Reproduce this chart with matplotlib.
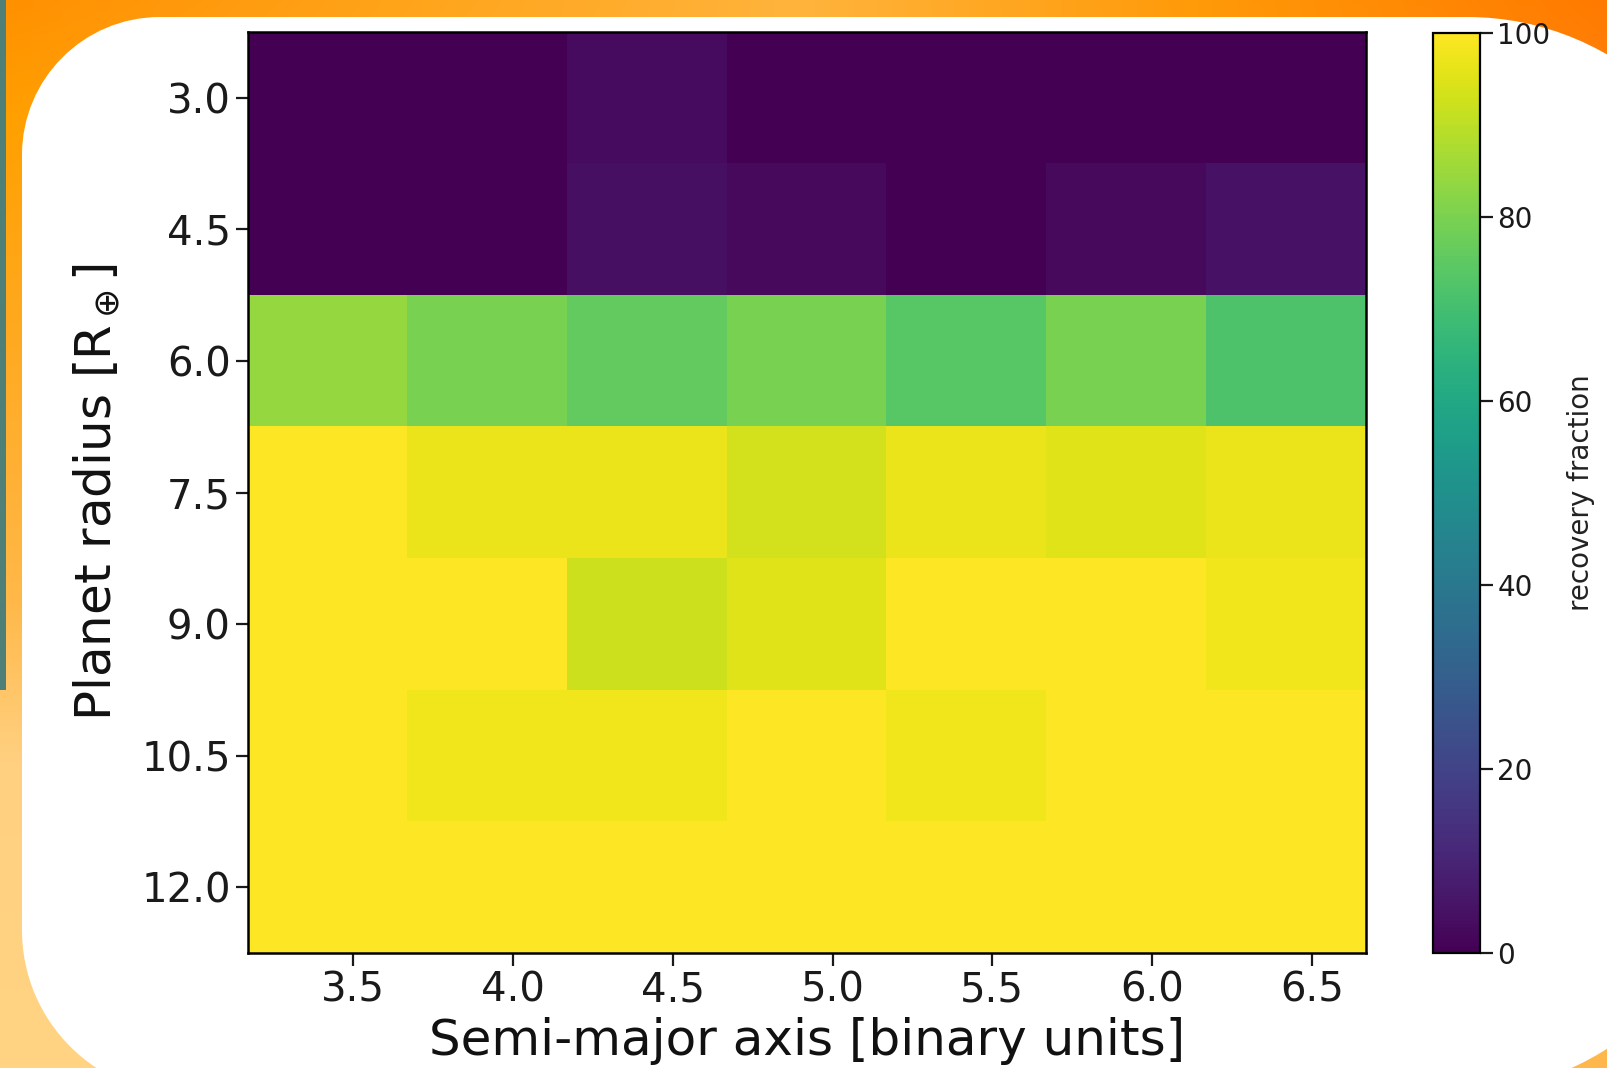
import numpy as np
import matplotlib
matplotlib.use("Agg")
import matplotlib.pyplot as plt
from matplotlib.path import Path
from matplotlib.patches import PathPatch, Rectangle
from matplotlib.colors import to_rgb

# Grid of injected planets (cell centres)
semi_major = [3.42, 3.92, 4.42, 4.92, 5.42, 5.92, 6.42]   # binary units
planet_radius = [3.0, 4.5, 6.0, 7.5, 9.0, 10.5, 12.0]     # Earth radii

# Axis tick labels
x_ticks = [3.5, 4.0, 4.5, 5.0, 5.5, 6.0, 6.5]
y_ticks = [3.0, 4.5, 6.0, 7.5, 9.0, 10.5, 12.0]

# Recovery fraction (%) per cell, rows follow planet_radius, columns semi_major
rec_r30 = [0, 0, 3, 0, 0, 0, 0]
rec_r45 = [0, 0, 4, 2.5, 0, 2.5, 5]
rec_r60 = [84, 80, 76, 80, 74, 80, 72]
rec_r75 = [100, 97, 97, 93, 97, 95, 97]
rec_r90 = [100, 100, 92.5, 95, 100, 100, 98]
rec_r105 = [100, 98, 98, 100, 98, 100, 100]
rec_r120 = [100, 100, 100, 100, 100, 100, 100]

cbar_ticks = [0, 20, 40, 60, 80, 100]

W, H = 1608, 1068
fig = plt.figure(figsize=(W / 100, H / 100), dpi=100)

# ---- backdrop: orange gradient with a rounded white card ----
bg = fig.add_axes([0, 0, 1, 1], zorder=-10)
bg.set_xlim(0, W)
bg.set_ylim(H, 0)
bg.axis("off")

gx = [0, 400, 800, 1200, 1608]
gy = [0, 120, 350, 600, 760, 1068]
gcols = [
    ["#ff9000", "#ffa41a", "#ffb43c", "#ff9a08", "#ff7a00"],
    ["#ffa000", "#ffa820", "#ffb43c", "#ff9a10", "#ff8410"],
    ["#ffaa22", "#ffb030", "#ffb43c", "#ffa020", "#ff9a28"],
    ["#ffb848", "#ffb848", "#ffb848", "#ffb040", "#ffa838"],
    ["#ffd080", "#ffd080", "#ffc868", "#ffb848", "#ffb446"],
    ["#ffd482", "#ffd482", "#ffc868", "#ffb84d", "#ffb84d"],
]
G = np.array([[to_rgb(c) for c in row] for row in gcols])
xs = np.linspace(0, W, 320)
ys = np.linspace(0, H, 214)
img = np.zeros((len(ys), len(xs), 3))
for ch in range(3):
    tmp = np.array([np.interp(xs, gx, G[i, :, ch]) for i in range(len(gy))])
    img[:, :, ch] = np.array([np.interp(ys, gy, tmp[:, j]) for j in range(len(xs))]).T
bg.imshow(img, extent=[0, W, H, 0], aspect="auto", interpolation="bilinear")
bg.add_patch(Rectangle((0, 0), 6, 690, facecolor="#4f8077", edgecolor="none"))


def rounded_card(x0, y0, x1, y1, r_tl, r_tr, r_br, r_bl):
    k = 0.5523
    verts = [(x0 + r_tl, y0), (x1 - r_tr, y0),
             (x1 - r_tr + k * r_tr, y0), (x1, y0 + r_tr - k * r_tr), (x1, y0 + r_tr),
             (x1, y1 - r_br),
             (x1, y1 - r_br + k * r_br), (x1 - r_br + k * r_br, y1), (x1 - r_br, y1),
             (x0 + r_bl, y1),
             (x0 + r_bl - k * r_bl, y1), (x0, y1 - r_bl + k * r_bl), (x0, y1 - r_bl),
             (x0, y0 + r_tl),
             (x0, y0 + r_tl - k * r_tl), (x0 + r_tl - k * r_tl, y0), (x0 + r_tl, y0),
             (x0 + r_tl, y0)]
    codes = [Path.MOVETO, Path.LINETO,
             Path.CURVE4, Path.CURVE4, Path.CURVE4,
             Path.LINETO,
             Path.CURVE4, Path.CURVE4, Path.CURVE4,
             Path.LINETO,
             Path.CURVE4, Path.CURVE4, Path.CURVE4,
             Path.LINETO,
             Path.CURVE4, Path.CURVE4, Path.CURVE4,
             Path.CLOSEPOLY]
    return Path(verts, codes)


card = rounded_card(22, 17, 1747, 1095, 138, 280, 300, 165)
bg.add_patch(PathPatch(card, facecolor="white", edgecolor="none"))

# ---- heatmap ----
recovery = np.array([rec_r30, rec_r45, rec_r60, rec_r75, rec_r90, rec_r105, rec_r120])
dx = semi_major[1] - semi_major[0]
dy = planet_radius[1] - planet_radius[0]
extent = [semi_major[0] - dx / 2, semi_major[-1] + dx / 2,
          planet_radius[-1] + dy / 2, planet_radius[0] - dy / 2]

ax = fig.add_axes([248 / W, (H - 953) / H, (1366 - 248) / W, (953 - 32) / H])
im = ax.imshow(recovery, cmap="viridis", vmin=0, vmax=100, extent=extent,
               aspect="auto", interpolation="nearest", origin="upper")
ax.set_xticks(x_ticks)
ax.set_xticklabels([f"{v:.1f}" for v in x_ticks])
ax.set_yticks(y_ticks)
ax.set_yticklabels([f"{v:.1f}" for v in y_ticks])
ax.tick_params(labelsize=29, length=9, width=1.6, colors="#1a1a1a")
for s in ax.spines.values():
    s.set_linewidth(1.8)
ax.set_xlabel("Semi-major axis [binary units]", fontsize=36, labelpad=5, color="#111111")
ax.set_ylabel(r"Planet radius [R$_\oplus$]", fontsize=36, labelpad=14, color="#111111")

cax = fig.add_axes([1433 / W, (H - 953) / H, (1480 - 1433) / W, (953 - 33) / H])
cb = fig.colorbar(im, cax=cax, ticks=cbar_ticks)
cb.outline.set_linewidth(1.6)
cax.tick_params(labelsize=20, length=9, width=1.6, colors="#1a1a1a")
cb.set_label("recovery fraction", fontsize=20, labelpad=12, color="#222222")

fig.savefig("out.png", dpi=100)
